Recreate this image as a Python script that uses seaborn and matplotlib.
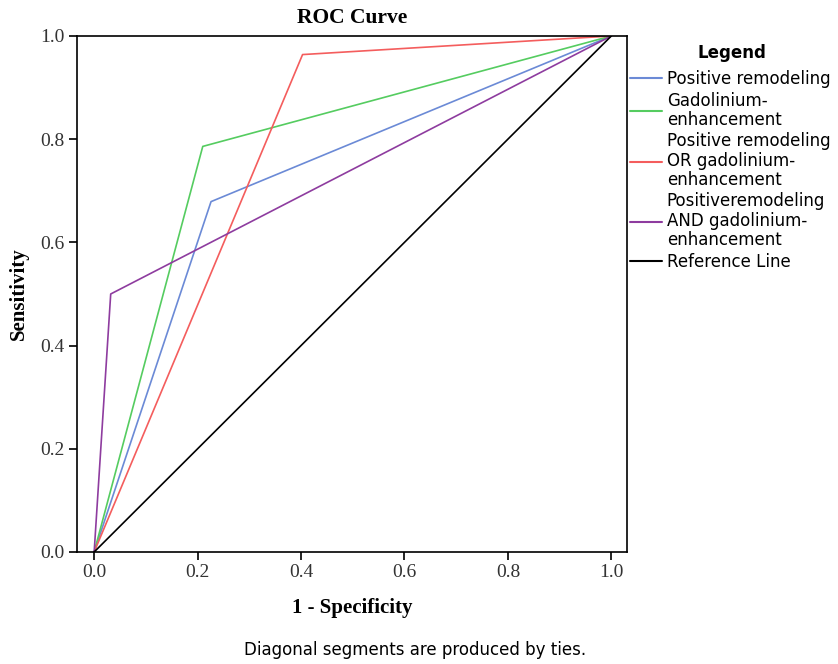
import pandas as pd
import matplotlib
matplotlib.use("Agg")
import matplotlib.pyplot as plt
import seaborn as sns

# ROC curve points (1 - specificity, sensitivity)
curve_names = [
    "Positive remodeling",
    "Gadolinium-\nenhancement",
    "Positive remodeling\nOR gadolinium-\nenhancement",
    "Positiveremodeling\nAND gadolinium-\nenhancement",
    "Reference Line",
]
blue_fpr = [0.0, 0.226, 1.0]
blue_tpr = [0.0, 0.679, 1.0]
green_fpr = [0.0, 0.210, 1.0]
green_tpr = [0.0, 0.786, 1.0]
red_fpr = [0.0, 0.403, 1.0]
red_tpr = [0.0, 0.964, 1.0]
purple_fpr = [0.0, 0.032, 1.0]
purple_tpr = [0.0, 0.500, 1.0]
ref_fpr = [0.0, 1.0]
ref_tpr = [0.0, 1.0]

colors = ["#6b8ad6", "#55cc60", "#f45d5d", "#8e3c9f", "#000000"]

# build long-form table
rows = []
for name, xs, ys in zip(
    curve_names,
    [blue_fpr, green_fpr, red_fpr, purple_fpr, ref_fpr],
    [blue_tpr, green_tpr, red_tpr, purple_tpr, ref_tpr],
):
    for i, (x, y) in enumerate(zip(xs, ys)):
        rows.append({"curve": name, "step": i, "fpr": x, "tpr": y})
df = pd.DataFrame(rows)

sns.set_style("white")
plt.rcParams["font.family"] = ["DejaVu Sans"]
plt.rcParams["text.color"] = "black"

fig = plt.figure(figsize=(8.38, 6.64), dpi=100)
ax = fig.add_axes([0.092, 0.1687, 0.656, 0.7771])

sns.lineplot(
    data=df,
    x="fpr",
    y="tpr",
    hue="curve",
    hue_order=curve_names,
    palette=colors,
    units="curve",
    estimator=None,
    sort=False,
    linewidth=1.2,
    ax=ax,
)

ax.set_xlim(-0.033, 1.03)
ax.set_ylim(0, 1.0)
ax.set_xticks([0.0, 0.2, 0.4, 0.6, 0.8, 1.0])
ax.set_yticks([0.0, 0.2, 0.4, 0.6, 0.8, 1.0])
ax.set_xticklabels([f"{v:.1f}" for v in ax.get_xticks()],
                   family="Liberation Serif", fontsize=14, color="#333333")
ax.set_yticklabels([f"{v:.1f}" for v in ax.get_yticks()],
                   family="Liberation Serif", fontsize=14, color="#333333")
ax.tick_params(direction="out", length=6, width=1.2, color="black",
               bottom=True, left=True, pad=3)
for s in ax.spines.values():
    s.set_color("black")
    s.set_linewidth(1.2)

ax.set_title("ROC Curve", family="Liberation Serif", fontweight="bold",
             fontsize=15.5, pad=9, color="black")
ax.set_xlabel("1 - Specificity", family="Liberation Serif",
              fontweight="bold", fontsize=15, labelpad=12, color="black")
ax.set_ylabel("Sensitivity", family="Liberation Serif",
              fontweight="bold", fontsize=15, labelpad=8, color="black")

# legend title drawn separately to get the wider gap above the entries
fig.text(0.8735, 1 - 53 / 664, "Legend", ha="center", va="center",
         fontsize=12, fontweight="bold", color="black")

leg = ax.legend(
    loc="upper left",
    bbox_to_anchor=(1.0, 0.94),
    frameon=False,
    fontsize=12,
    handlelength=1.9,
    handletextpad=0.3,
    labelspacing=0.2,
    borderaxespad=0.0,
    borderpad=0.2,
)
for t in leg.get_texts():
    t.set_linespacing(1.1)
    t.set_color("black")
for line in leg.get_lines():
    line.set_linewidth(1.5)

fig.text(0.495, 0.021, "Diagonal segments are produced by ties.",
         ha="center", va="center", fontsize=12, color="black")

fig.savefig("out.png", dpi=100)
plt.close()
